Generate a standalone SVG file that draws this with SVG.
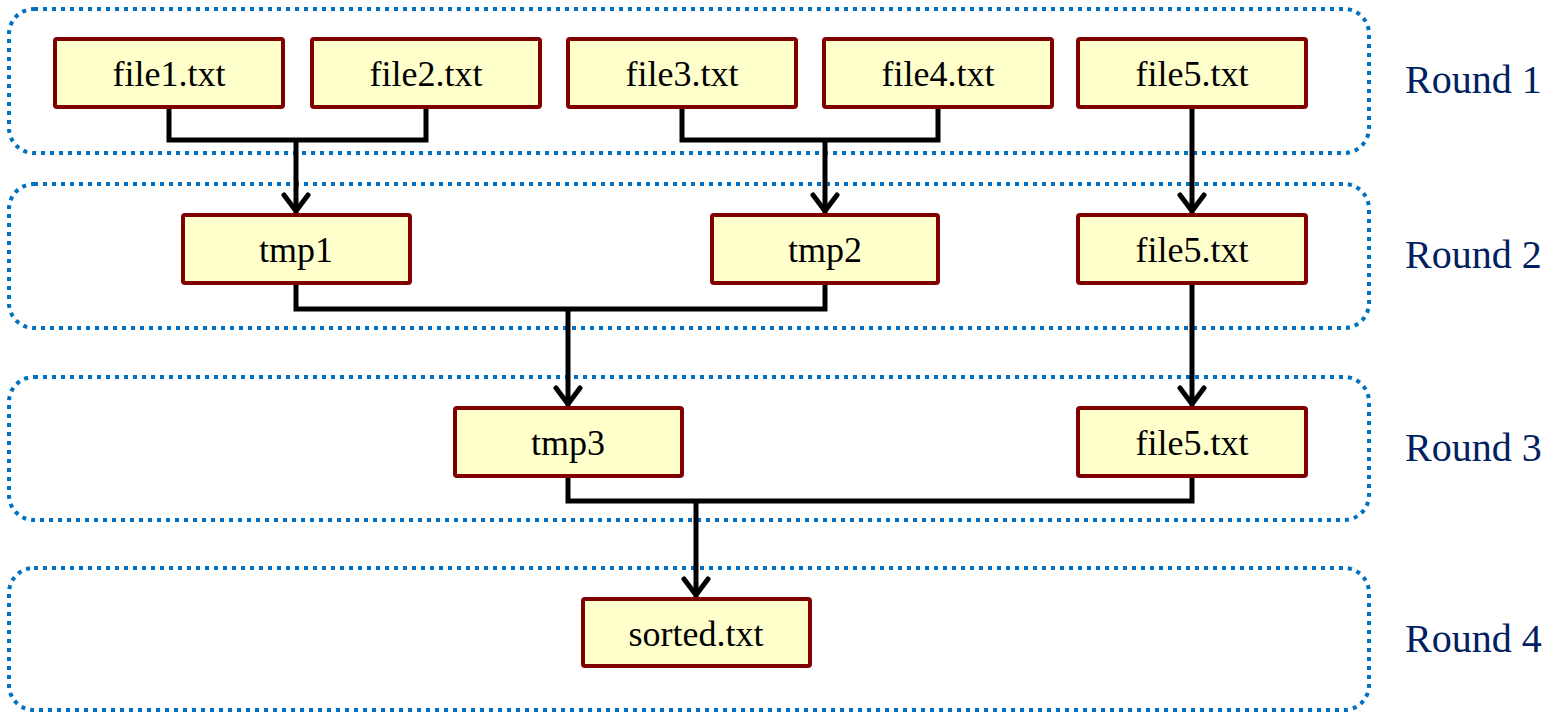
<svg xmlns="http://www.w3.org/2000/svg" width="1556" height="712" viewBox="0 0 1556 712">
<style>
.round{fill:none;stroke:#0070C0;stroke-width:4;stroke-dasharray:4 5}
.node rect{fill:#FFFFCC;stroke:#800000;stroke-width:4}
.node text{font-size:36px;fill:#000;text-anchor:middle}
.lbl{font-size:40px;fill:#002060}
.conn path{fill:none;stroke:#000;stroke-width:5}
</style>
<defs>
<marker id="arr" viewBox="0 0 30 24" refX="15" refY="22" markerWidth="30" markerHeight="24" markerUnits="userSpaceOnUse" orient="0">
<path d="M3,4 L15,20 L27,4" fill="none" stroke="#000" stroke-width="5" stroke-linecap="round" stroke-linejoin="miter"/>
</marker>
</defs>
<g id="rounds" font-family="'Liberation Serif', 'DejaVu Serif', serif">
<rect class="round" x="9" y="9" width="1360" height="144" rx="25"/>
<rect class="round" x="9" y="184" width="1360" height="144" rx="25"/>
<rect class="round" x="9" y="377" width="1360" height="143" rx="25"/>
<rect class="round" x="9" y="568" width="1360" height="142" rx="25"/>
<text class="lbl" x="1405" y="93">Round 1</text>
<text class="lbl" x="1405" y="268">Round 2</text>
<text class="lbl" x="1405" y="461">Round 3</text>
<text class="lbl" x="1405" y="652">Round 4</text>
</g>
<g class="conn" id="connectors">
<path d="M169,107 V140 H426 V107"/>
<path d="M296,140 V213" marker-end="url(#arr)"/>
<path d="M682,107 V140 H938 V107"/>
<path d="M825,140 V213" marker-end="url(#arr)"/>
<path d="M1192,107 V213" marker-end="url(#arr)"/>
<path d="M296,283 V309 H825 V283"/>
<path d="M568,309 V406" marker-end="url(#arr)"/>
<path d="M1192,283 V406" marker-end="url(#arr)"/>
<path d="M568,476 V501 H1192 V476"/>
<path d="M696,501 V597" marker-end="url(#arr)"/>
</g>
<g font-family="'Liberation Serif', 'DejaVu Serif', serif">
<g class="node" id="n-file1"><rect x="55" y="39" width="228" height="68" rx="2"/><text x="169" y="86">file1.txt</text></g>
<g class="node" id="n-file2"><rect x="312" y="39" width="228" height="68" rx="2"/><text x="426" y="86">file2.txt</text></g>
<g class="node" id="n-file3"><rect x="568" y="39" width="228" height="68" rx="2"/><text x="682" y="86">file3.txt</text></g>
<g class="node" id="n-file4"><rect x="824" y="39" width="228" height="68" rx="2"/><text x="938" y="86">file4.txt</text></g>
<g class="node" id="n-file5a"><rect x="1078" y="39" width="228" height="68" rx="2"/><text x="1192" y="86">file5.txt</text></g>
<g class="node" id="n-tmp1"><rect x="183" y="215" width="227" height="68" rx="2"/><text x="296" y="262">tmp1</text></g>
<g class="node" id="n-tmp2"><rect x="712" y="215" width="226" height="68" rx="2"/><text x="825" y="262">tmp2</text></g>
<g class="node" id="n-file5b"><rect x="1078" y="215" width="228" height="68" rx="2"/><text x="1192" y="262">file5.txt</text></g>
<g class="node" id="n-tmp3"><rect x="455" y="408" width="227" height="68" rx="2"/><text x="568" y="455">tmp3</text></g>
<g class="node" id="n-file5c"><rect x="1078" y="408" width="228" height="68" rx="2"/><text x="1192" y="455">file5.txt</text></g>
<g class="node" id="n-sorted"><rect x="583" y="599" width="227" height="67" rx="2"/><text x="696" y="646">sorted.txt</text></g>
</g>
</svg>
